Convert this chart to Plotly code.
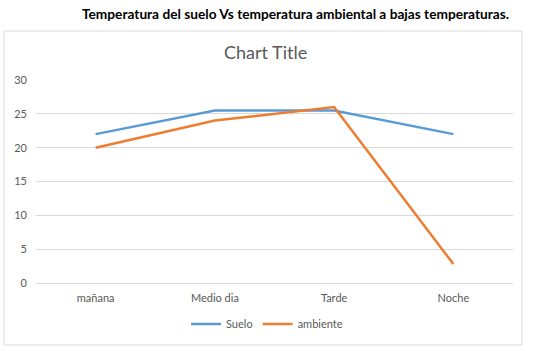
import plotly.graph_objects as go

categories = ["mañana", "Medio dia", "Tarde", "Noche"]
suelo = [22, 25.5, 25.5, 22]
ambiente = [20, 24, 26, 2.8]
y_ticks = [0, 5, 10, 15, 20, 25, 30]

W, H = 533, 351
L, R, T, B = 36, 20, 80, 68
pw, ph = W - L - R, H - T - B

def px(x):
    return (x - L) / pw

def py(y):
    return (H - B - y) / ph

font = "Lato, 'Open Sans', sans-serif"
gray = "#595959"

fig = go.Figure()
fig.add_trace(go.Scatter(x=categories, y=suelo, name="Suelo", mode="lines",
                         line=dict(color="#5B9BD5", width=2.5)))
fig.add_trace(go.Scatter(x=categories, y=ambiente, name="ambiente", mode="lines",
                         line=dict(color="#ED7D31", width=2.5)))

fig.update_layout(
    width=W, height=H,
    margin=dict(l=L, r=R, t=T, b=B),
    paper_bgcolor="white", plot_bgcolor="white",
    font=dict(family=font, size=11, color=gray),
    showlegend=True,
    legend=dict(orientation="h", x=px(267), xanchor="center", y=py(324), yanchor="middle",
                font=dict(size=11, color=gray), itemwidth=30, tracegroupgap=0,
                bgcolor="rgba(0,0,0,0)"),
    xaxis=dict(type="category", range=[-0.5, 3.5], showgrid=False, showline=True,
               linecolor="#d9d9d9", linewidth=1, ticks="", tickfont=dict(size=11, color=gray),
               zeroline=False, fixedrange=True, ticklabelstandoff=5),
    yaxis=dict(range=[0, 30], tickvals=y_ticks, showgrid=True, gridcolor="#d9d9d9",
               gridwidth=1, zeroline=False, showline=False, ticks="",
               tickfont=dict(size=11, color=gray), fixedrange=True, ticklabelstandoff=8),
    shapes=[dict(type="rect", xref="paper", yref="paper",
                 x0=px(4), x1=px(522), y0=py(345), y1=py(31),
                 line=dict(color="#d9d9d9", width=1), fillcolor="rgba(0,0,0,0)", layer="below")],
    annotations=[
        dict(text="<b>Temperatura del suelo Vs temperatura ambiental a bajas temperaturas.</b>",
             xref="paper", yref="paper", x=px(511), y=py(13), xanchor="right", yanchor="middle",
             showarrow=False, font=dict(family=font, size=13.7, color="black")),
        dict(text="Chart Title", xref="paper", yref="paper", x=px(265), y=py(52),
             xanchor="center", yanchor="middle", showarrow=False,
             font=dict(family=font, size=18, color=gray)),
    ],
)

fig.write_html("out.html")
